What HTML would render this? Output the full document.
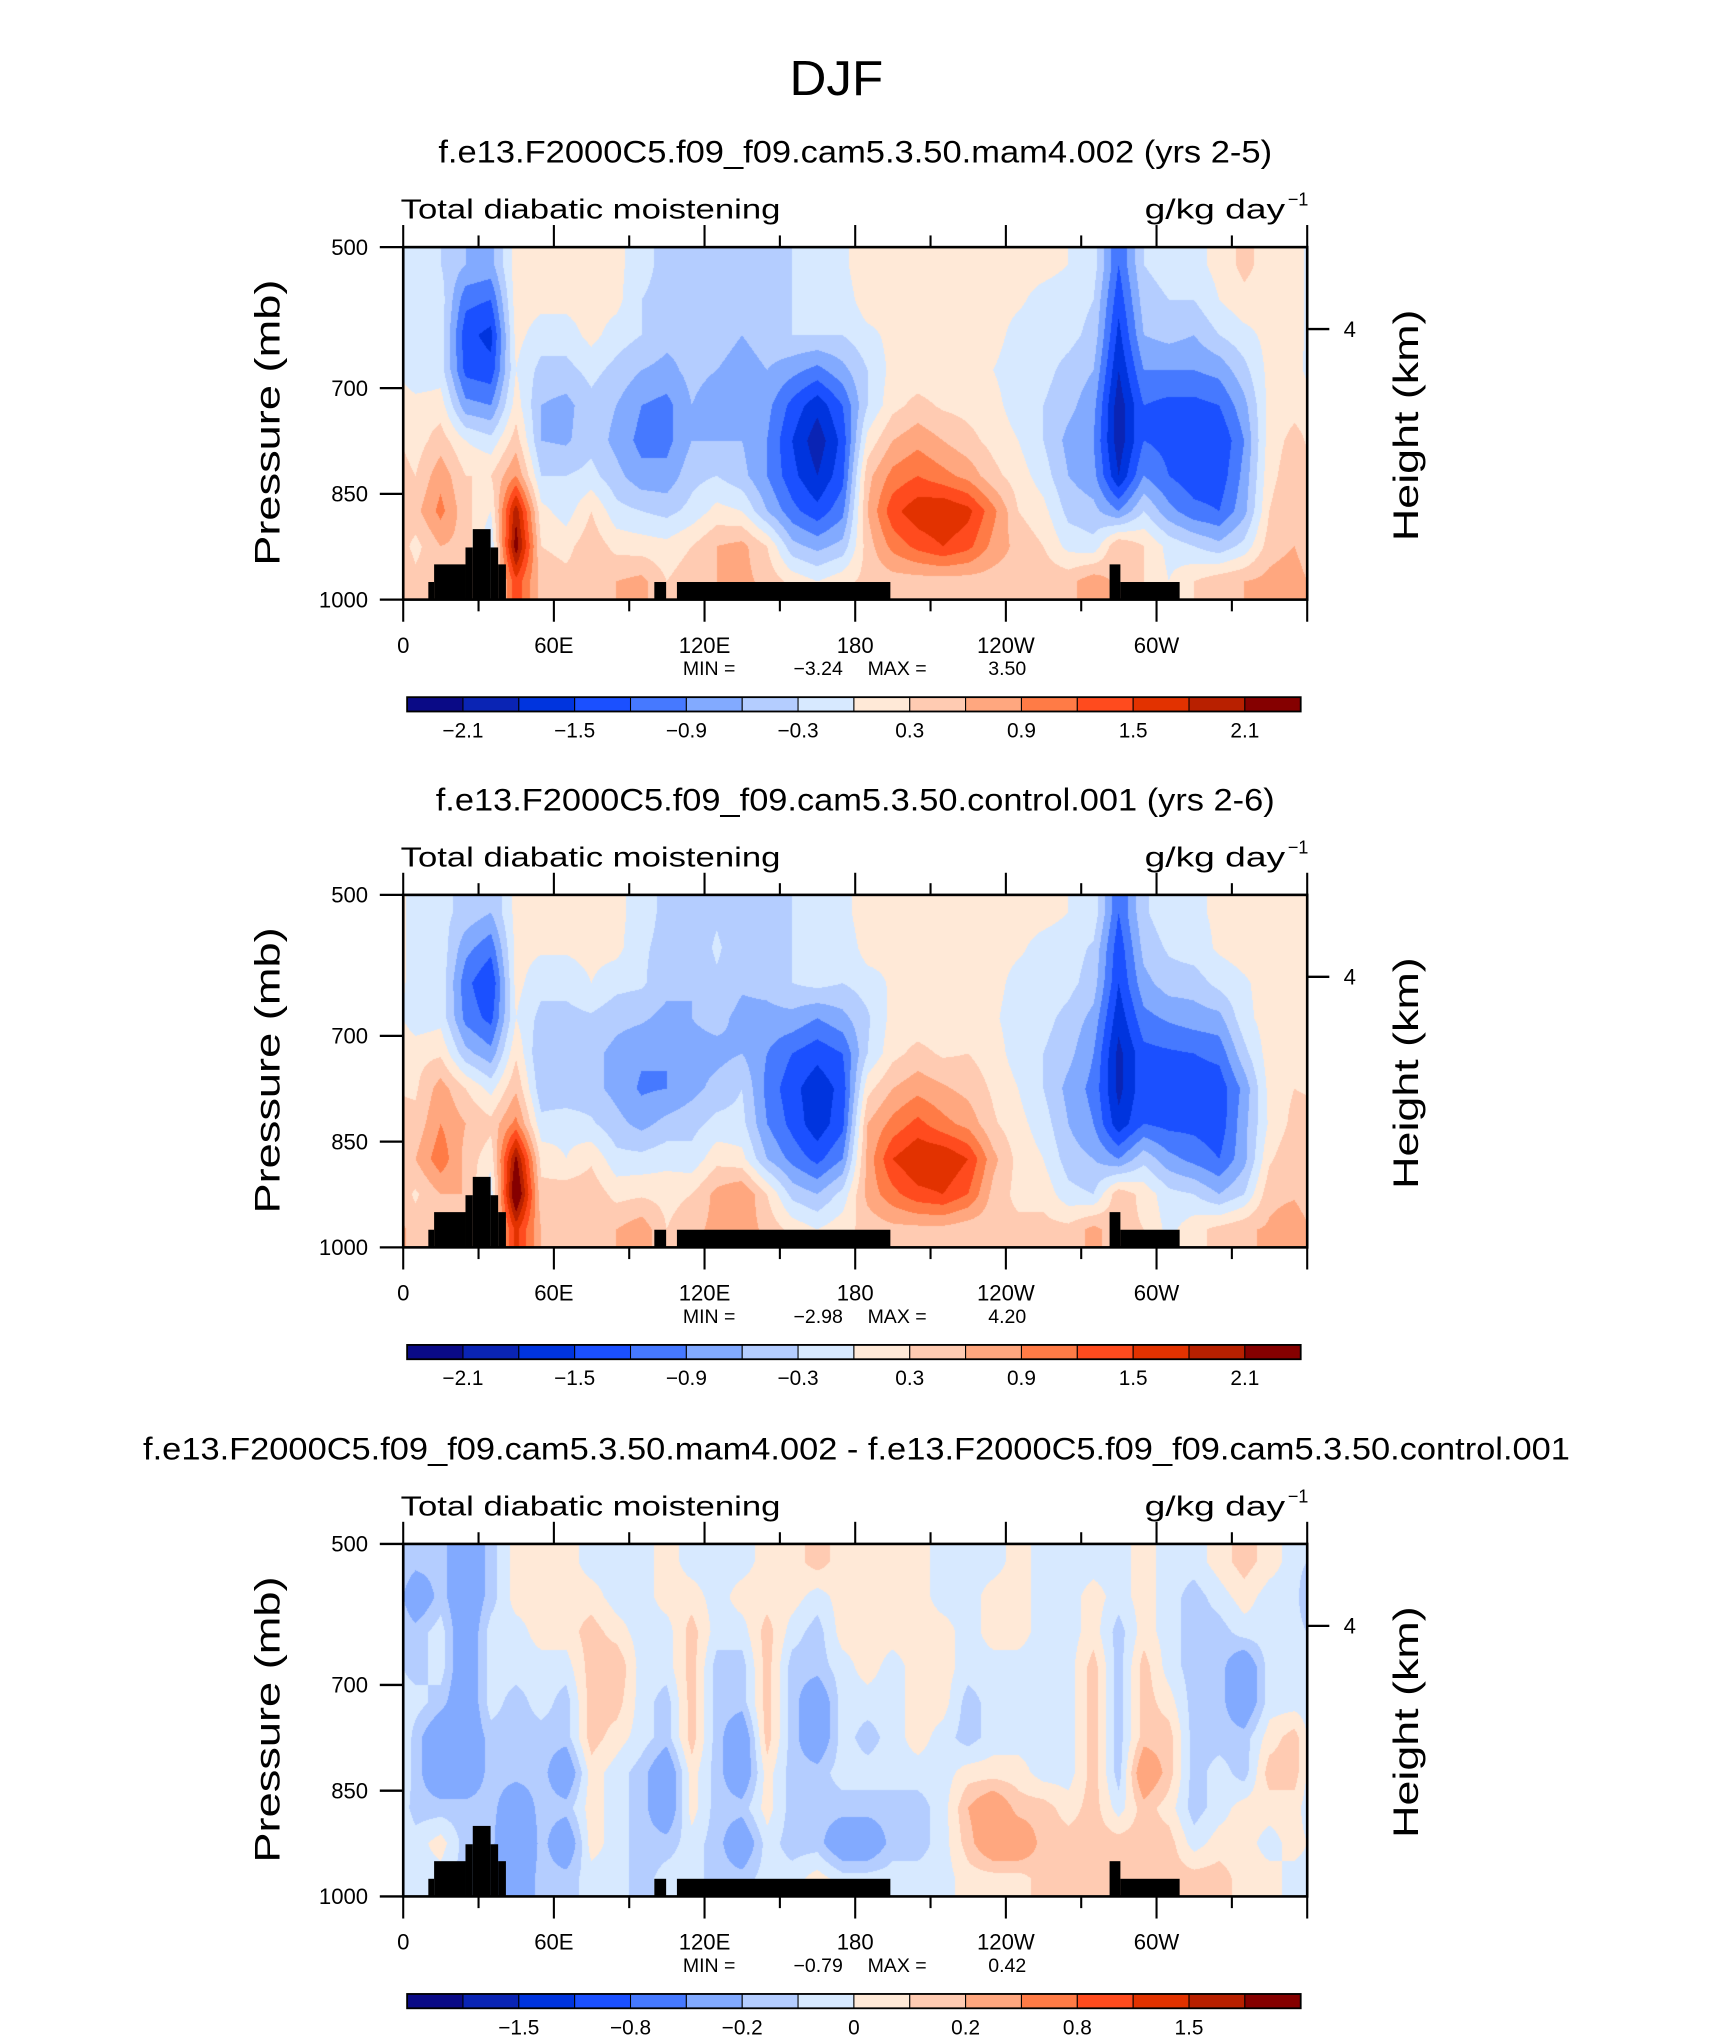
<!DOCTYPE html>
<html><head><meta charset="utf-8"><style>
html,body{margin:0;padding:0;background:#fff;}
#wrap{position:relative;width:1710px;height:2038px;overflow:hidden;}
canvas{position:absolute;}
svg{position:absolute;left:0;top:0;}
text{font-family:"Liberation Sans",sans-serif;fill:#000;}
</style></head><body>
<div id="wrap"></div>
<script>
// ---- data ----
const field1 = [
[-0.15,-0.15,-0.15,-0.3,0.15,0.15,0.3,0.5,0.2,0.4],
[-0.3,-0.15,-0.15,-0.15,0.15,0.45,0.8,1.0,0.6,0.5],
[-0.6,-1.1,-1.4,-1.3,-0.8,0.0,0.3,0.4,0.5,0.5],
[-0.7,-1.2,-1.6,-1.4,-0.9,-0.2,0.3,0.0,-0.3,0],
[0.15,0.15,0.1,0.0,0.15,0.45,0.9,2.0,2.3,1.4],
[0.15,0.1,-0.15,-0.4,-0.6,-0.6,-0.3,0.1,0.3,0.5],
[0.1,0.1,-0.15,-0.4,-0.7,-0.65,-0.3,-0.15,0.2,0.4],
[0.1,0.15,0.1,-0.2,-0.4,-0.4,-0.2,0.3,0.5,0.5],
[0.1,0.1,-0.15,-0.4,-0.6,-0.7,-0.5,-0.2,0.2,0.6],
[-0.2,-0.3,-0.3,-0.6,-0.9,-1.0,-0.8,-0.3,0.15,0.7],
[-0.4,-0.4,-0.5,-0.7,-1.0,-1.0,-0.8,-0.4,0.1,0.3],
[-0.5,-0.5,-0.5,-0.5,-0.6,-0.6,-0.4,-0.2,0.3,0.5],
[-0.4,-0.3,-0.4,-0.6,-0.8,-0.6,-0.3,0.1,0.6,0.6],
[-0.6,-0.5,-0.6,-0.8,-0.7,-0.6,-0.5,0.0,0.7,0.7],
[-0.5,-0.4,-0.4,-0.6,-0.8,-0.9,-0.9,-0.6,0.3,0.5],
[-0.3,-0.3,-0.3,-0.8,-1.3,-1.5,-1.4,-1.1,-0.5,0.2],
[-0.2,-0.15,-0.3,-1.0,-1.7,-2.0,-1.8,-1.4,-0.7,0.0],
[-0.1,-0.2,-0.3,-0.7,-1.2,-1.4,-1.3,-1.0,-0.5,0.2],
[0.3,0.2,-0.1,-0.3,-0.3,0.1,0.5,0.6,0.45,0.4],
[0.15,0.15,0.1,0.1,0.2,0.6,1.0,1.4,1.0,0.45],
[0.1,0.1,0.1,0.1,0.4,0.8,1.2,1.7,1.3,0.45],
[0.1,0.1,0.1,0.1,0.25,0.6,1.0,1.8,1.5,0.45],
[0.1,0.1,0.1,0.1,0.2,0.4,0.8,1.6,1.3,0.45],
[0.1,0.1,0.1,0.0,0.1,0.2,0.4,1.0,0.8,0.45],
[0.1,0.05,-0.1,-0.15,-0.15,0.0,0.15,0.3,0.5,0.45],
[0.1,-0.1,-0.15,-0.2,-0.3,-0.3,-0.15,0.1,0.3,0.5],
[0.0,-0.15,-0.2,-0.4,-0.5,-0.7,-0.6,-0.4,-0.1,0.5],
[-0.15,-0.3,-0.4,-0.6,-0.8,-0.9,-0.8,-0.5,-0.2,0.8],
[-1.2,-1.4,-1.6,-1.8,-2.0,-2.0,-1.8,-0.9,0.6,0.5],
[-0.3,-0.45,-0.6,-0.9,-1.2,-1.2,-0.9,-0.3,0.3,0.3],
[-0.15,-0.3,-0.5,-0.9,-1.3,-1.3,-1.2,-0.8,-0.1,0],
[-0.1,-0.3,-0.6,-0.9,-1.3,-1.5,-1.4,-1.1,-0.3,0.3],
[0.1,0.0,-0.3,-0.8,-1.2,-1.5,-1.4,-1.2,-0.5,0.5],
[0.4,0.2,-0.1,-0.4,-0.7,-0.9,-0.8,-0.7,-0.2,0.6],
[0.15,0.1,0.1,0.1,0.1,0.15,0.2,0.3,0.45,0.7],
[0.1,0.1,0.1,0.15,0.2,0.4,0.5,0.6,0.6,0.8]
];
const field2 = [
[-0.1,-0.1,-0.1,-0.2,0.2,0.25,0.4,0.6,0.25,0.45],
[-0.2,-0.1,-0.1,-0.1,0.25,0.75,0.9,1.1,0.6,0.5],
[-0.4,-0.8,-1.1,-1.0,-0.5,0.3,0.6,0.5,0.6,0.5],
[-0.6,-1.1,-1.5,-1.3,-0.8,-0.1,0.4,0.1,-0.2,0.1],
[0.1,0.1,0.1,0.0,0.25,0.55,1.0,2.2,2.6,1.6],
[0.1,0.05,-0.2,-0.4,-0.6,-0.5,-0.2,0.2,0.4,0.6],
[0.05,0.05,-0.2,-0.4,-0.6,-0.55,-0.1,0.0,0.5,0.5],
[0.15,0.1,0.0,-0.35,-0.5,-0.5,-0.25,0.25,0.5,0.5],
[0.1,0.1,-0.2,-0.5,-0.7,-0.7,-0.5,-0.2,0.2,0.6],
[-0.15,-0.25,-0.25,-0.55,-0.85,-0.95,-0.7,-0.2,0.25,0.8],
[-0.4,-0.4,-0.5,-0.7,-0.9,-0.9,-0.5,-0.1,0.2,0.3],
[-0.45,-0.5,-0.6,-0.6,-0.7,-0.7,-0.4,-0.2,0.3,0.5],
[-0.35,-0.25,-0.35,-0.5,-0.7,-0.5,-0.2,0.2,0.7,0.7],
[-0.6,-0.5,-0.55,-0.7,-0.6,-0.3,-0.2,0.1,0.9,0.8],
[-0.55,-0.45,-0.5,-0.7,-0.9,-1.0,-0.9,-0.6,0.3,0.5],
[-0.3,-0.3,-0.3,-0.7,-1.2,-1.4,-1.3,-1.0,-0.4,0.2],
[-0.3,-0.1,-0.2,-0.9,-1.4,-1.7,-1.7,-1.3,-0.6,0.0],
[-0.15,-0.25,-0.3,-0.7,-1.2,-1.4,-1.3,-0.9,-0.2,0.2],
[0.25,0.15,-0.15,-0.35,-0.3,0.2,0.6,0.7,0.7,0.4],
[0.1,0.1,0.05,0.1,0.2,0.6,1.0,1.5,1.1,0.5],
[0.1,0.1,0.1,0.1,0.4,0.8,1.3,1.8,1.4,0.5],
[0.1,0.1,0.1,0.1,0.25,0.65,1.0,1.8,1.5,0.5],
[0.15,0.15,0.15,0.15,0.3,0.5,0.8,1.5,1.2,0.4],
[0.1,0.1,0.1,0.05,0.15,0.25,0.35,0.7,0.5,0.4],
[0.1,0.05,-0.1,-0.15,-0.15,0.0,0.1,0.2,0.2,0.4],
[0.1,-0.1,-0.1,-0.2,-0.3,-0.3,-0.15,0.0,0.2,0.4],
[0.0,-0.15,-0.2,-0.4,-0.5,-0.7,-0.6,-0.45,-0.2,0.4],
[-0.1,-0.35,-0.45,-0.7,-0.9,-1.0,-0.9,-0.6,-0.3,0.7],
[-1.2,-1.4,-1.5,-1.7,-1.9,-1.9,-1.7,-0.9,0.5,0.4],
[-0.35,-0.5,-0.7,-1.0,-1.3,-1.3,-1.2,-0.4,0.2,0.3],
[-0.1,-0.25,-0.45,-0.85,-1.25,-1.4,-1.3,-0.8,-0.2,-0.1],
[-0.05,-0.15,-0.45,-0.75,-1.2,-1.4,-1.3,-1.0,-0.3,0.2],
[0.05,0.05,-0.2,-0.7,-1.1,-1.4,-1.4,-1.2,-0.6,0.4],
[0.3,0.15,-0.05,-0.1,-0.4,-0.8,-0.7,-0.7,-0.3,0.55],
[0.1,0.15,0.15,0.15,0.15,0.1,0.05,0.25,0.5,0.65],
[0.15,0.15,0.15,0.2,0.25,0.3,0.4,0.55,0.55,0.85]
];
const field3 = [
[-0.15,-0.35,-0.15,-0.15,-0.05,-0.15,-0.15,-0.15,-0.05,-0.05],
[-0.15,-0.15,-0.05,-0.05,-0.15,-0.35,-0.35,-0.15,0.05,-0.05],
[-0.35,-0.35,-0.35,-0.35,-0.35,-0.35,-0.35,-0.15,-0.15,-0.15],
[-0.15,-0.15,-0.05,-0.05,-0.05,-0.15,-0.15,-0.15,-0.15,-0.15],
[0.05,0.05,-0.05,-0.05,-0.15,-0.15,-0.15,-0.35,-0.5,-0.35],
[0.05,0.05,0.05,-0.05,-0.05,-0.15,-0.15,-0.15,-0.15,-0.15],
[0.05,0.05,0.05,-0.05,-0.15,-0.15,-0.35,-0.15,-0.35,-0.15],
[-0.05,0.05,0.15,0.15,0.15,0.15,0.05,0.05,0.05,-0.05],
[-0.05,-0.05,0.05,0.2,0.15,0.05,-0.05,-0.05,-0.05,-0.05],
[-0.05,-0.05,-0.05,-0.05,-0.05,-0.05,-0.15,-0.15,-0.15,-0.15],
[0.05,0.05,-0.05,-0.05,-0.15,-0.15,-0.35,-0.35,-0.15,-0.05],
[-0.05,0.05,0.15,0.15,0.15,0.15,0.05,0.05,-0.05,-0.05],
[-0.05,-0.05,-0.05,-0.15,-0.15,-0.15,-0.15,-0.15,-0.15,-0.15],
[-0.05,0.05,-0.05,-0.15,-0.15,-0.35,-0.35,-0.15,-0.35,-0.15],
[0.05,0.05,0.15,0.15,0.15,0.15,0.05,0.05,-0.05,-0.05],
[0.05,0.05,-0.05,-0.15,-0.15,-0.15,-0.15,-0.15,-0.15,-0.05],
[0.15,-0.05,-0.15,-0.15,-0.35,-0.35,-0.15,-0.15,-0.15,0.05],
[0.05,0.05,0.05,-0.05,-0.05,-0.05,-0.05,-0.15,-0.35,-0.05],
[0.05,0.05,0.05,0.05,-0.05,-0.15,-0.05,-0.15,-0.35,-0.05],
[0.05,0.05,0.05,-0.05,-0.05,-0.05,-0.05,-0.15,-0.15,-0.05],
[0.05,0.05,0.05,0.05,0.05,0.05,-0.05,-0.15,-0.15,-0.05],
[-0.05,-0.05,0.05,0.05,0.05,-0.05,-0.05,-0.05,-0.05,-0.05],
[-0.05,-0.05,-0.05,-0.05,-0.15,-0.15,0.05,0.2,0.15,0.05],
[-0.05,0.05,0.05,-0.05,-0.05,-0.05,0.05,0.35,0.35,0.05],
[0.05,0.05,0.05,-0.05,-0.05,-0.05,0.05,0.15,0.35,0.05],
[-0.05,-0.05,-0.05,-0.05,-0.05,-0.05,-0.05,0.15,0.15,0.15],
[-0.05,-0.05,-0.05,-0.05,-0.05,-0.05,-0.05,0.05,0.15,0.15],
[-0.05,0.05,0.05,0.15,0.15,0.15,0.15,0.15,0.15,0.15],
[-0.05,-0.05,-0.15,-0.15,-0.15,-0.15,-0.15,-0.05,0.15,0.15],
[0.05,0.05,0.05,0.15,0.15,0.15,0.35,0.15,0.15,0.15],
[-0.05,-0.05,-0.05,-0.05,0.05,0.15,0.15,0.05,0.15,0.15],
[-0.05,-0.15,-0.15,-0.15,-0.15,-0.15,-0.15,-0.15,-0.05,0.15],
[0.05,-0.05,-0.15,-0.15,-0.15,-0.15,-0.05,-0.05,0.05,0.15],
[0.15,0.05,-0.05,-0.35,-0.35,-0.15,-0.15,0.05,0.05,0.05],
[0.05,-0.05,-0.05,-0.05,-0.05,0.05,0.15,0.05,-0.05,0.05],
[-0.05,-0.05,-0.05,-0.05,-0.05,0.15,0.15,0.05,0.05,-0.05]
];
const levelsAbs = [-2.1,-1.8,-1.5,-1.2,-0.9,-0.6,-0.3,0,0.3,0.6,0.9,1.2,1.5,1.8,2.1];
const levelsDiff = [-2,-1.5,-1.2,-0.8,-0.5,-0.2,-0.1,0,0.1,0.2,0.5,0.8,1.2,1.5,2];
const cbLabelsAbs = ["-2.1","-1.5","-0.9","-0.3","0.3","0.9","1.5","2.1"];
const cbLabelsDiff = ["-1.5","-0.8","-0.2","0","0.2","0.8","1.5"];
const topoLonStart = [10,12.3,24.8,27.7,34.8,37.8,100,109,281.3,285.6];
const topoLonEnd   = [12.3,24.8,27.7,34.8,37.8,40.9,104.7,194,285.6,309.2];
const topoTopP     = [975,950,926,900,926,950,975,975,950,975];
const pressTicks = [500,700,850,1000];
const lonLabels = ["0","60E","120E","180","120W","60W"];
const panelTitles = ["f.e13.F2000C5.f09_f09.cam5.3.50.mam4.002 (yrs 2-5)",
 "f.e13.F2000C5.f09_f09.cam5.3.50.control.001 (yrs 2-6)",
 "f.e13.F2000C5.f09_f09.cam5.3.50.mam4.002 - f.e13.F2000C5.f09_f09.cam5.3.50.control.001"];
const minVals = ["-3.24","-2.98","-0.79"];
const maxVals = ["3.50","4.20","0.42"];

// ---- style / geometry ----
const colors = ["#0a0a86","#0a24b4","#0034de","#1b50ff","#4679ff","#82aaff","#b4cdff","#d7e9ff",
"#ffe9d7","#ffcbb2","#ffa77f","#ff7b46","#ff4b1e","#e23200","#b82000","#850000"];
const S = 1.3007, X0 = 310, XW = 695, PH = 271;
const panelTop = [190, 688, 1187];
const titleX = [[337,978],[335,980],[110,1207]];
const fields = [field1, field2, field3];
const levelSets = [levelsAbs, levelsAbs, levelsDiff];
const cbLabelSets = [cbLabelsAbs, cbLabelsAbs, cbLabelsDiff];
const cbLabelIdx = [[0,2,4,6,8,10,12,14],[0,2,4,6,8,10,12,14],[1,3,5,7,9,11,13]];
function xOf(lon){return X0 + lon/360*XW;}
function yOf(p,k){return panelTop[k] + (p-500)/500*PH;}
function hex(c){return [parseInt(c.slice(1,3),16),parseInt(c.slice(3,5),16),parseInt(c.slice(5,7),16)];}
const rgb = colors.map(hex);

const wrap = document.getElementById('wrap');
const NS = "http://www.w3.org/2000/svg";

function sample(F, lon, p){
  let fi = (lon-5)/10, i0 = Math.floor(fi), t = fi-i0;
  let ia = ((i0%36)+36)%36, ib = (ia+1)%36;
  let fk = (p-525)/50; fk = Math.max(0, Math.min(9, fk));
  let k0 = Math.min(8, Math.floor(fk)), u = fk-k0;
  let a = F[ia][k0]*(1-u)+F[ia][k0+1]*u;
  let b = F[ib][k0]*(1-u)+F[ib][k0+1]*u;
  return a*(1-t)+b*t;
}

for (let k=0;k<3;k++){
  const cv = document.createElement('canvas');
  
  
  const w = Math.round(XW*S), h = Math.round(PH*S);
  cv.width = w; cv.height = h;
  cv.style.left = (X0*S)+'px'; cv.style.top = (panelTop[k]*S)+'px';
  cv.style.width = w+'px'; cv.style.height = h+'px';
  const ctx = cv.getContext('2d');
  const img = ctx.createImageData(w,h);
  const F = fields[k], L = levelSets[k];
  for (let y=0;y<h;y++){
    const p = 500 + (y+0.5)/h*500;
    for (let x=0;x<w;x++){
      const lon = (x+0.5)/w*360;
      const v = sample(F, lon, p);
      let ci=0; while(ci<L.length && v>=L[ci]) ci++;
      const c = rgb[ci], o=(y*w+x)*4;
      img.data[o]=c[0]; img.data[o+1]=c[1]; img.data[o+2]=c[2]; img.data[o+3]=255;
    }
  }
  ctx.putImageData(img,0,0);
  wrap.appendChild(cv);
}

const svg = document.createElementNS(NS,'svg');
svg.setAttribute('width','1710'); svg.setAttribute('height','2038');
svg.setAttribute('viewBox','0 0 '+(1710/S)+' '+(2038/S));


wrap.appendChild(svg);

function mk(tag, attrs, parent){
  const e = document.createElementNS(NS, tag);
  for (const a in attrs) e.setAttribute(a, attrs[a]);
  (parent||svg).appendChild(e); return e;
}
function txt(s, attrs, parent){ const e = mk('text', attrs, parent); e.textContent = s; return e; }

let t0 = txt('DJF', {x:643,y:73,'text-anchor':'middle','font-size':38,textLength:72,lengthAdjust:'spacingAndGlyphs'});



for (let k=0;k<3;k++){
  const T = panelTop[k];
  const g = mk('g',{});
  
  

  const tl = txt(panelTitles[k], {x:titleX[k][0],y:T-65,'font-size':24,textLength:titleX[k][1]-titleX[k][0],lengthAdjust:'spacingAndGlyphs'}, g);
  
  
  const vt = txt('Total diabatic moistening', {x:308,y:T-22,'font-size':21,textLength:292,lengthAdjust:'spacingAndGlyphs'}, g);
  
  
  const un = txt('g/kg day', {x:880,y:T-22,'font-size':21,textLength:108,lengthAdjust:'spacingAndGlyphs'}, g);
  
  
  const ue = txt('\u22121', {x:990,y:T-32,'font-size':14}, g);
  
  

  for (let i=0;i<topoLonStart.length;i++){
    const r = mk('rect',{x:xOf(topoLonStart[i]),y:yOf(topoTopP[i],k),width:xOf(topoLonEnd[i])-xOf(topoLonStart[i]),height:yOf(1000,k)-yOf(topoTopP[i],k),fill:'#000'}, g);
    
    
  }
  const fr = mk('rect',{x:X0,y:T,width:XW,height:PH,fill:'none',stroke:'#000','stroke-width':2}, g);
  
  

  for (let lon=0; lon<=360; lon+=30){
    const major = lon%60===0;
    const x = xOf(lon);
    const a = mk('line',{x1:x,x2:x,y1:T,y2:T-(major?17:9),stroke:'#000','stroke-width':1.6}, g);
    
    
    const b = mk('line',{x1:x,x2:x,y1:T+PH,y2:T+PH+(major?17:9),stroke:'#000','stroke-width':1.6}, g);
    
    
  }
  lonLabels.forEach((s,i)=>{
    const e = txt(s,{x:xOf(i*60),y:T+312,'text-anchor':'middle','font-size':17}, g);
    
    
  });
  pressTicks.forEach(p=>{
    const y = yOf(p,k);
    const l = mk('line',{x1:X0-18,x2:X0,y1:y,y2:y,stroke:'#000','stroke-width':1.8}, g);
    
    
    const e = txt(String(p),{x:283,y:y+6,'text-anchor':'end','font-size':17}, g);
    
    
  });
  const rt = mk('line',{x1:X0+XW,x2:X0+XW+17,y1:T+63,y2:T+63,stroke:'#000','stroke-width':1.8}, g);
  
  
  const rl = txt('4',{x:1033,y:T+69,'font-size':17}, g);
  
  
  const yt = txt('Pressure (mb)',{x:0,y:0,'text-anchor':'middle','font-size':27,textLength:220,lengthAdjust:'spacingAndGlyphs',transform:'translate(215,'+(T+135)+') rotate(-90)'}, g);
  
  
  const ht = txt('Height (km)',{x:0,y:0,'text-anchor':'middle','font-size':27,textLength:178,lengthAdjust:'spacingAndGlyphs',transform:'translate(1090,'+(T+137)+') rotate(-90)'}, g);
  
  

  const mn = txt('MIN =',{x:525,y:T+329,'font-size':15}, g);
  
  
  const mv = txt(minVals[k].replace('-','\u2212'),{x:648,y:T+329,'text-anchor':'end','font-size':15}, g);
  
  
  const mx = txt('MAX =',{x:667,y:T+329,'font-size':15}, g);
  
  
  const xv = txt(maxVals[k],{x:789,y:T+329,'text-anchor':'end','font-size':15}, g);
  
  

  const cbX = 313, cbW = 687, cbY = T+346, cbH = 11, bw = cbW/16;
  colors.forEach((c,i)=>{
    const r = mk('rect',{x:cbX+i*bw,y:cbY,width:bw,height:cbH,fill:c,stroke:'#000','stroke-width':0.8}, g);
    
    
  });
  const cbf = mk('rect',{x:cbX,y:cbY,width:cbW,height:cbH,fill:'none',stroke:'#000','stroke-width':1.4}, g);
  
  
  cbLabelSets[k].forEach((s,i)=>{
    const j = cbLabelIdx[k][i];
    const e = txt(s.replace('-','\u2212'),{x:cbX+(j+1)*bw,y:T+377,'text-anchor':'middle','font-size':16}, g);
    
    
  });
}
</script>
</body></html>
